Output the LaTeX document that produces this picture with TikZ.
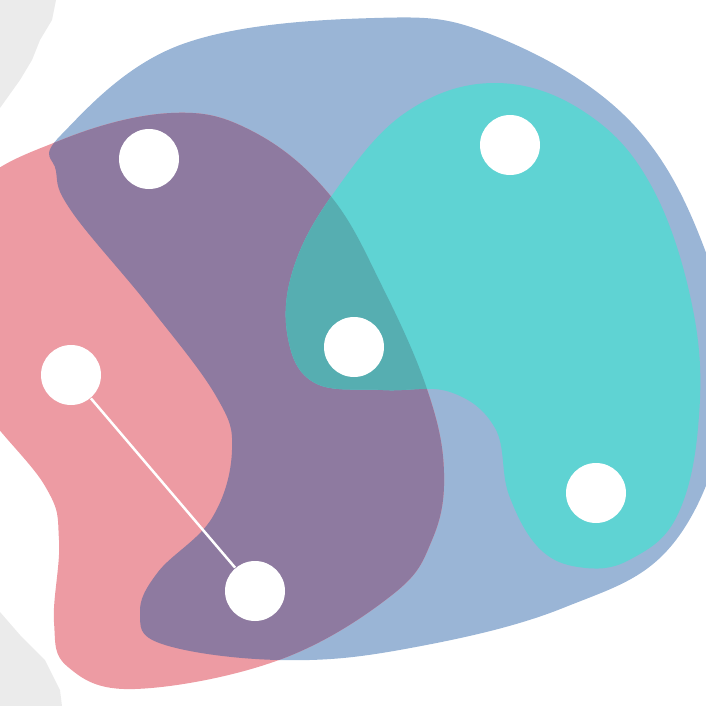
\documentclass[tikz,border=0pt]{standalone}
\usepackage{tikz}
\definecolor{blobblue}{HTML}{9AB5D6}
\definecolor{blobpink}{HTML}{ED9BA3}
\definecolor{blobpurple}{HTML}{8E7AA0}
\definecolor{blobteal}{HTML}{5FD3D3}
\definecolor{blobdeep}{HTML}{56AEB1}
\definecolor{edgegray}{HTML}{EBEBEB}

% outlines of the three blobs (pixel units, y downwards)
\def\bluepath{plot[smooth cycle, tension=0.65] coordinates {(61,135) (180,45) (374,18) (495,36) (631,122) (708,258) (730,390) (676,540) (563,608) (405,649) (279,660) (162,644) (140,613) (158,572) (212,518) (232,450) (216,396) (149,306) (72,212) (56,171)}}
\def\pinkpath{plot[smooth cycle, tension=0.65] coordinates {(-30,194) (61,140) (171,113) (252,131) (329,194) (383,288) (428,392) (444,473) (432,540) (392,595) (279,660) (135,689) (68,667) (54,622) (59,540) (45,486) (-25,396) (-60,300)}}
\def\tealpath{plot[smooth cycle, tension=0.65] coordinates {(333,194) (405,113) (495,83) (586,113) (653,189) (694,315) (698,428) (676,518) (631,559) (586,568) (541,550) (509,495) (495,428) (450,392) (383,390) (315,383) (288,338) (293,270)}}

\begin{document}
\begin{tikzpicture}[
        x=0.1mm, y=-0.1mm,
        dot/.style={circle, fill=white, minimum size=6mm, inner sep=0pt},
        link/.style={draw=white, line width=0.25mm}
    ]
    \useasboundingbox (0,0) rectangle (706,706);
    \clip (0,0) rectangle (706,706);

    % grey edges on the left
    \fill[edgegray] (0,0) -- (56,0) -- (52,20) -- (40,40) -- (32,60) -- (20,80) -- (0,108) -- cycle;
    \fill[edgegray] (0,612) -- (20,635) -- (45,660) -- (60,690) -- (62,706) -- (0,706) -- cycle;

    % blobs
    \fill[blobblue] \bluepath;
    \fill[blobpink] \pinkpath;
    \begin{scope}
        \clip \pinkpath;
        \fill[blobpurple] \bluepath;
    \end{scope}
    \fill[blobteal] \tealpath;
    \begin{scope}
        \clip \pinkpath;
        \fill[blobdeep] \tealpath;
    \end{scope}

    % points
    \node[dot] (p1) at (149,159) {};
    \node[dot] (p2) at (510,145) {};
    \node[dot] (p3) at (354,347) {};
    \node[dot] (p4) at (71,375) {};
    \node[dot] (p5) at (255,591) {};
    \node[dot] (p6) at (596,493) {};

    \draw[link] (p4) -- (p5);
\end{tikzpicture}
\end{document}
